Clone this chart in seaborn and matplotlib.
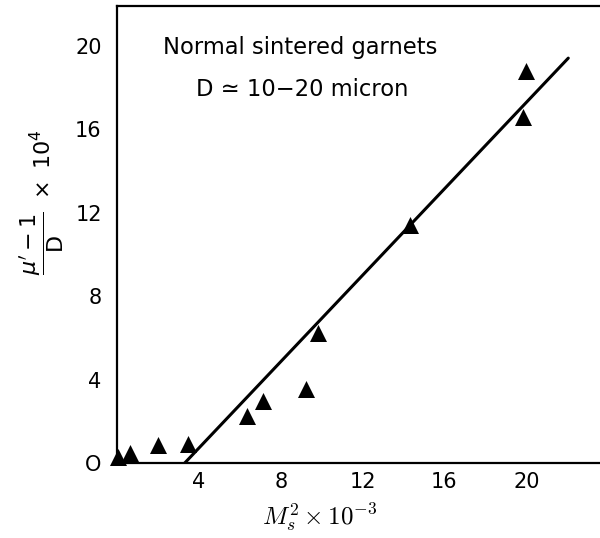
import pandas as pd
import matplotlib
matplotlib.use("Agg")
import matplotlib.pyplot as plt
import seaborn as sns

# measured points (M_s^2 x 10^-3, (mu'-1)/D x 10^4)
ms2 = [0.05, 0.63, 2.0, 3.46, 6.34, 7.12, 9.22, 9.8, 14.34, 19.85, 20.0]
mu_d = [0.29, 0.48, 0.86, 0.91, 2.25, 2.97, 3.55, 6.24, 11.4, 16.6, 18.8]

# fitted straight line (end points)
fit_x = [3.3, 22.05]
fit_y = [0.0, 19.4]

x_ticks = [4, 8, 12, 16, 20]
y_ticks = [0, 4, 8, 12, 16, 20]

sns.set_style("white")
plt.rcParams['font.family'] = ['DejaVu Sans']
plt.rcParams.update({"text.color": "black", "axes.labelcolor": "black",
                     "xtick.color": "black", "ytick.color": "black"})

df = pd.DataFrame({"ms2": ms2, "mu_d": mu_d})
fit = pd.DataFrame({"x": fit_x, "y": fit_y})

fig = plt.figure(figsize=(6, 5.38), dpi=100)
ax = fig.add_axes([0.195, 0.139, 0.805, 0.85])

sns.lineplot(ax=ax, data=fit, x="x", y="y", color="black", linewidth=2.2)
sns.scatterplot(ax=ax, data=df, x="ms2", y="mu_d", marker="^", s=150,
                color="black", edgecolor="black", linewidth=0, zorder=3, clip_on=False)

ax.set_xlim(0, 23.6)
ax.set_ylim(0, 21.9)
ax.set_xticks(x_ticks)
ax.set_yticks(y_ticks)
ax.set_yticklabels(["O"] + [str(v) for v in y_ticks[1:]])

for side in ["left", "bottom", "top"]:
    ax.spines[side].set_color("black")
    ax.spines[side].set_linewidth(1.6)
ax.spines["right"].set_visible(False)

ax.tick_params(axis="y", direction="in", length=15, width=1.3, pad=11, labelsize=15)
ax.tick_params(axis="x", direction="in", length=13, width=1.3, pad=6, labelsize=15)

ax.set_xlabel(r"$M_s^2 \times 10^{-3}$", fontsize=18, math_fontfamily="cm")
ax.xaxis.set_label_coords(0.42, -0.085)
ax.set_ylabel(r"$\dfrac{\mu' - 1}{\mathrm{D}}\ \times\ 10^4$", fontsize=16,
              math_fontfamily="dejavusans")
ax.yaxis.set_label_coords(-0.105, 0.57)

ax.text(2.24, 19.9, "Normal sintered garnets", fontsize=16.3, ha="left", va="center")
ax.text(3.85, 17.9, "D \u2243 10\u221220 micron", fontsize=16.3, ha="left", va="center")

fig.savefig("out.png", dpi=100)
